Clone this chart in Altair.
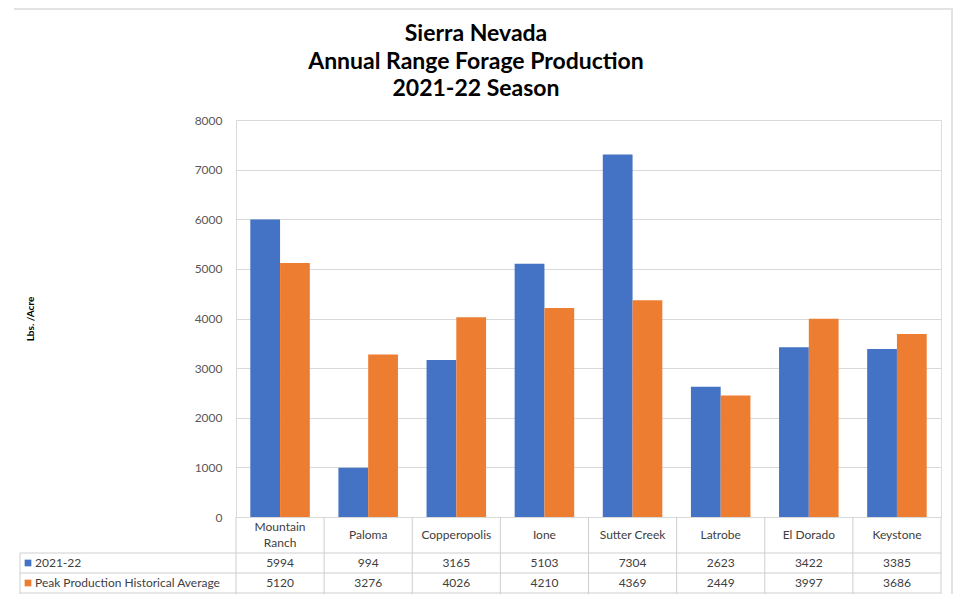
import altair as alt
import pandas as pd

categories = ["Mountain Ranch", "Paloma", "Copperopolis", "Ione",
              "Sutter Creek", "Latrobe", "El Dorado", "Keystone"]
label_line1 = ["Mountain", "Paloma", "Copperopolis", "Ione",
               "Sutter Creek", "Latrobe", "El Dorado", "Keystone"]
label_line2 = ["Ranch", "", "", "", "", "", "", ""]
series_names = ["2021-22", "Peak Production Historical Average"]
values_2122 = [5994, 994, 3165, 5103, 7304, 2623, 3422, 3385]
values_avg = [5120, 3276, 4026, 4210, 4369, 2449, 3997, 3686]
colors = ["#4472C4", "#ED7D31"]
y_ticks = [0, 1000, 2000, 3000, 4000, 5000, 6000, 7000, 8000]
title_lines = ["Sierra Nevada", "Annual Range Forage Production", "2021-22 Season"]

rows = []
for i, c in enumerate(categories):
    rows.append({"cat": c, "series": series_names[0], "value": values_2122[i]})
    rows.append({"cat": c, "series": series_names[1], "value": values_avg[i]})
df = pd.DataFrame(rows)
cat_df = pd.DataFrame({"cat": categories, "l1": label_line1, "l2": label_line2})
series_df = pd.DataFrame({"series": series_names, "color": colors})
title_df = pd.DataFrame({"t": ["\n".join(title_lines)]})
one = pd.DataFrame({"a": [0]})

W, H = 705, 397
FONT = "Lato"
GRID = "#d9d9d9"
TBL = "#cfcfcf"
TXT = "#404040"

xscale = alt.Scale(domain=categories, paddingInner=0, paddingOuter=0)


def xcat(pos=0.5):
    return alt.X("cat:N", scale=xscale, axis=None, sort=categories, bandPosition=pos)


bars = alt.Chart(df).mark_bar().encode(
    x=alt.X("cat:N", scale=xscale, axis=None, sort=categories),
    xOffset=alt.XOffset("series:N", sort=series_names,
                        scale=alt.Scale(domain=series_names, paddingInner=0, paddingOuter=0.48)),
    y=alt.Y("value:Q", scale=alt.Scale(domain=[0, 8000], nice=False),
            axis=alt.Axis(values=y_ticks, format="d", grid=True, gridColor=GRID, gridWidth=1,
                          domain=True, domainColor=GRID, domainWidth=1, ticks=False,
                          labelFont=FONT, labelFontSize=12, labelColor="#595959", labelPadding=14,
                          title="Lbs. /Acre", titleFont=FONT, titleFontSize=10, titleFontWeight="bold",
                          titleColor="#000000", titleAngle=-90, titleX=-206, titleY=H / 2,
                          titleAlign="center", titleBaseline="middle")),
    color=alt.Color("series:N", scale=alt.Scale(domain=series_names, range=colors), legend=None),
)

title = alt.Chart(title_df).mark_text(font=FONT, fontSize=23, fontWeight="bold", color="#000000",
                                      lineBreak="\n", lineHeight=27.5, align="center",
                                      baseline="alphabetic").encode(
    x=alt.value(240), y=alt.value(-79), text="t:N")

# table: category labels
cat_single = alt.Chart(cat_df).transform_filter(alt.datum.l2 == "").mark_text(
    font=FONT, fontSize=12, color=TXT, baseline="middle").encode(
    x=xcat(), y=alt.value(H + 18), text="l1:N")
cat_two_a = alt.Chart(cat_df).transform_filter(alt.datum.l2 != "").mark_text(
    font=FONT, fontSize=12, color=TXT, baseline="middle").encode(
    x=xcat(), y=alt.value(H + 10), text="l1:N")
cat_two_b = alt.Chart(cat_df).transform_filter(alt.datum.l2 != "").mark_text(
    font=FONT, fontSize=12, color=TXT, baseline="middle").encode(
    x=xcat(), y=alt.value(H + 26), text="l2:N")

# table grid lines
vlines = alt.Chart(cat_df).mark_rule(color=TBL, strokeWidth=1).encode(
    x=xcat(0), y=alt.value(H), y2=alt.value(H + 78))
vline_right = alt.Chart(one).mark_rule(color=TBL, strokeWidth=1).encode(
    x=alt.value(W), y=alt.value(H), y2=alt.value(H + 78))
vline_left = alt.Chart(one).mark_rule(color=TBL, strokeWidth=1).encode(
    x=alt.value(-216), y=alt.value(H + 36), y2=alt.value(H + 78))
hline1 = alt.Chart(one).mark_rule(color=TBL, strokeWidth=1).encode(
    x=alt.value(-216), x2=alt.value(W), y=alt.value(H + 36))
hline2 = alt.Chart(one).mark_rule(color=TBL, strokeWidth=1).encode(
    x=alt.value(-216), x2=alt.value(W), y=alt.value(H + 56))
hline3 = alt.Chart(one).mark_rule(color=TBL, strokeWidth=1).encode(
    x=alt.value(-216), x2=alt.value(W), y=alt.value(H + 76))

# outer frame lines
frame_top = alt.Chart(one).mark_rule(color="#e3e3e3", strokeWidth=2).encode(
    x=alt.value(-222), x2=alt.value(717), y=alt.value(-111))
frame_right = alt.Chart(one).mark_rule(color="#e3e3e3", strokeWidth=2).encode(
    x=alt.value(716), y=alt.value(-111), y2=alt.value(H + 80))

layers = [bars, vlines, vline_right, vline_left, hline1, hline2, hline3,
          cat_single, cat_two_a, cat_two_b, title, frame_top, frame_right]

row_y = [H + 46, H + 66]
for k, s in enumerate(series_names):
    vals = alt.Chart(df).transform_filter(alt.datum.series == s).mark_text(
        font=FONT, fontSize=12, color=TXT, baseline="middle").encode(
        x=xcat(), y=alt.value(row_y[k]), text=alt.Text("value:Q", format="d"))
    sq = alt.Chart(series_df).transform_filter(alt.datum.series == s).mark_square(
        size=45, opacity=1).encode(
        x=alt.value(-208), y=alt.value(row_y[k]), color=alt.value(colors[k]))
    lab = alt.Chart(series_df).transform_filter(alt.datum.series == s).mark_text(
        font=FONT, fontSize=12, color=TXT, align="left", baseline="middle").encode(
        x=alt.value(-201), y=alt.value(row_y[k]), text="series:N")
    layers += [vals, sq, lab]

chart = alt.layer(*layers).properties(
    width=W, height=H,
    autosize=alt.AutoSizeParams(type="none"),
    padding={"left": 228, "top": 112, "right": 13, "bottom": 80},
).configure_view(stroke="transparent", strokeWidth=0).configure(background="white")

chart.save("out.html", embed_options={"renderer": "svg", "actions": False})
